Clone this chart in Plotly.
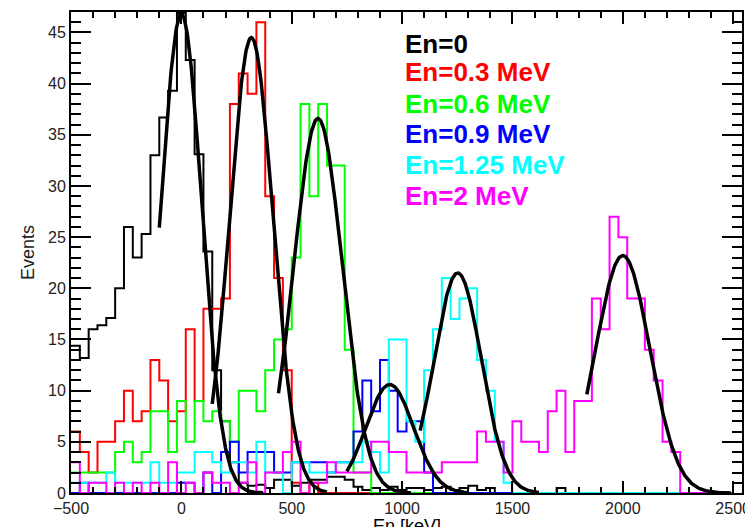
import numpy as np
import plotly.graph_objects as go

# ---- histogram binning (keV) ----
bin_start = -500
bin_width = 40
n_bins = 75

# ---- counts per bin ----
en0 = [14.4, 13.2, 16, 16.4, 17.1, 20, 26, 23, 25.3, 33, 36.7, 39.3, 46.9, 42.3, 33.1, 23.6, 12, 7, 3, 1,
       0.7, 0.8, 0.5, 1.3, 1.3, 0.7, 1, 1.3, 1.3, 1.6, 1.6, 1.3, 0.6, 0.3, 0.5, 0.3, 0.6, 0.3, 0.5, 0.5,
       0.3, 0.5, 0.6, 0.3, 0.5, 0.7, 0.3, 0.5, 0, 0, 0, 0, 0, 0, 0, 0.5, 0, 0, 0, 0,
       0, 0, 0, 0, 0, 0, 0, 0, 0, 0, 0, 0, 0, 0, 0]
en03 = [6, 4, 2, 5, 5, 7, 10, 7, 8, 13, 11, 7, 8, 16, 9, 18, 18, 19, 38, 41,
        39, 46, 29, 21, 12, 1, 0, 1, 0, 0, 0, 0, 0, 0, 0, 0, 0, 0, 0, 0,
        0, 0, 0, 0, 0, 0, 0, 0, 0, 0, 0, 0, 0, 0, 0, 0, 0, 0, 0, 0,
        0, 0, 0, 0, 0, 0, 0, 0, 0, 0, 0, 0, 0, 0, 0]
en06 = [2, 2, 2, 2, 2, 4, 5, 3, 4, 8, 8, 4, 9, 5, 9, 7, 8, 7, 5, 10,
        10, 8, 12, 15, 16, 23, 38, 29, 38, 32, 32, 14, 2, 2, 0, 0, 0, 0, 0, 0,
        0, 0, 0, 0, 0, 0, 0, 0, 0, 0, 0, 0, 0, 0, 0, 0, 0, 0, 0, 0,
        0, 0, 0, 0, 0, 0, 0, 0, 0, 0, 0, 0, 0, 0, 0]
en09 = [0, 1, 0, 0, 0, 0, 0, 0, 0, 0, 0, 0, 1, 1, 0, 2, 0, 4, 5, 2,
        4, 4, 4, 2, 2, 3, 3, 3, 3, 2, 3, 3, 6, 11, 8, 13, 10, 6, 7, 7,
        2, 0, 0, 0, 0, 0, 0, 0, 0, 0, 0, 0, 0, 0, 0, 0, 0, 0, 0, 0,
        0, 0, 0, 0, 0, 0, 0, 0, 0, 0, 0, 0, 0, 0, 0]
en125 = [1, 1, 1, 1, 2, 1, 1, 1, 1, 3, 1, 1, 2, 2, 4, 4, 3, 2, 3, 3,
         2, 5, 2, 2, 0, 3, 3, 2, 2, 2, 3, 3, 3, 5, 4, 2, 15, 15, 7, 5,
         12, 16, 21, 17, 19, 20, 13, 10, 5, 1, 0, 0, 0, 0, 0, 0, 0, 0, 0, 0,
         0, 0, 0, 0, 0, 0, 0, 0, 0, 0, 0, 0, 0, 0, 0]
en2 = [3, 0, 1, 1, 0, 1, 0, 1, 0, 1, 0, 3, 0, 1, 0, 2, 1, 1, 0, 1,
       3, 0, 2, 2, 4, 5, 0, 1, 1, 3, 2, 2, 2, 2, 5, 5, 4, 4, 2, 2,
       2, 2, 3, 3, 3, 3, 6, 5, 5, 2, 7, 5, 5, 4, 8, 10, 4, 9, 9, 19,
       16, 27, 25, 19, 19, 14, 11, 5, 4, 0, 0, 0, 0, 0, 0]

series_names = ["En=0", "En=0.3 MeV", "En=0.6 MeV", "En=0.9 MeV", "En=1.25 MeV", "En=2 MeV"]
series_vals = [en0, en03, en06, en09, en125, en2]
series_colors = ["#000000", "#ff0000", "#00ff00", "#0000ff", "#00ffff", "#ff00ff"]

# ---- Gaussian fit results ----
fit_amp = [46.8, 44.5, 36.6, 10.6, 21.5, 23.2]
fit_mean = [0, 317, 619, 944, 1252, 2000]
fit_sigma = [92, 98, 110, 108, 107, 123]
fit_lo = [-100, 140, 440, 750, 1082, 1837]
fit_hi = [370, 660, 1040, 1300, 1620, 2490]

edges = bin_start + bin_width * np.arange(n_bins + 1)

fig = go.Figure()
for name, vals, col in zip(series_names, series_vals, series_colors):
    v = list(vals) + [vals[-1]]
    fig.add_trace(go.Scatter(x=edges, y=v, mode="lines", line=dict(color=col, width=2, shape="hv"),
                             name=name, showlegend=False, hoverinfo="skip"))

for a, m, s, lo, hi in zip(fit_amp, fit_mean, fit_sigma, fit_lo, fit_hi):
    xx = np.linspace(lo, hi, 200)
    yy = a * np.exp(-(xx - m) ** 2 / (2 * s ** 2))
    fig.add_trace(go.Scatter(x=xx, y=yy, mode="lines", line=dict(color="black", width=3.5),
                             showlegend=False, hoverinfo="skip"))

# page body has an 8 px margin; figure is sized so the plot lands where the reference has it
ML, MT = 63, 4
PLOT_W, PLOT_H = 671, 481.3

# legend-like labels (window pixel rows of their centres)
label_y = [43.7, 72.5, 103.8, 134.5, 165, 196.2]
for name, col, py in zip(series_names, series_colors, label_y):
    fig.add_annotation(text="<b>%s</b>" % name, xref="paper", yref="paper",
                       x=(403.3 - 71) / PLOT_W, y=(493.3 - py) / PLOT_H, xanchor="left", yanchor="middle",
                       showarrow=False, font=dict(family="Liberation Sans", size=26, color=col))

fig.add_annotation(text="En [keV]", xref="paper", yref="paper", x=0.5, y=0, yanchor="top", yshift=-21,
                   showarrow=False, font=dict(family="Liberation Sans", size=18, color="black"))

axis_common = dict(showgrid=False, zeroline=False, showline=True, linecolor="black", linewidth=2,
                   mirror="ticks", ticks="inside", tickcolor="black", tickwidth=2, automargin=False,
                   tickfont=dict(family="Liberation Sans", size=16, color="#222"))

fig.update_xaxes(range=[-500, 2540], dtick=500, tick0=0, ticklen=12,
                 minor=dict(dtick=100, ticklen=6, ticks="inside", tickwidth=2, tickcolor="black"),
                 **axis_common)
fig.update_yaxes(range=[0, 47], dtick=5, tick0=0, ticklen=20,
                 minor=dict(dtick=1, ticklen=10, ticks="inside", tickwidth=2, tickcolor="black"),
                 title=dict(text="Events", font=dict(family="Liberation Sans", size=18, color="#222"), standoff=9),
                 **axis_common)

fig.update_layout(width=745, height=519, margin=dict(l=ML, r=11, t=MT, b=34),
                  paper_bgcolor="white", plot_bgcolor="white", showlegend=False)

fig.write_html("out.html")
